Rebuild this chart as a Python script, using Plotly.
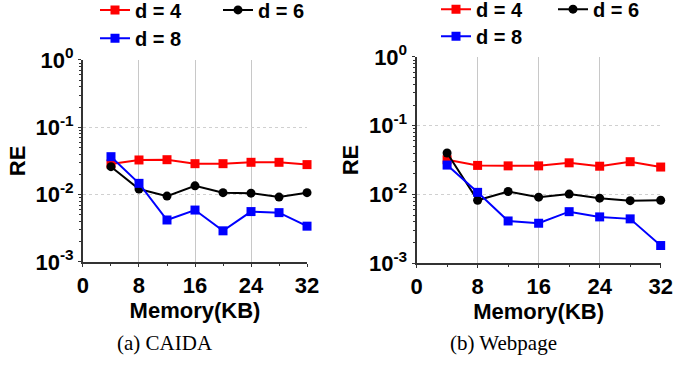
import plotly.graph_objects as go

memory = [4, 8, 12, 16, 20, 24, 28, 32]
x_ticks = [0, 8, 16, 24, 32]
y_tickvals = [0.001, 0.01, 0.1, 1]
y_ticktext = ["10<sup>-3</sup>", "10<sup>-2</sup>", "10<sup>-1</sup>", "10<sup>0</sup>"]

caida_d4 = [0.0285, 0.0327, 0.0330, 0.0288, 0.0288, 0.0302, 0.0302, 0.0279]
caida_d6 = [0.0260, 0.0121, 0.0095, 0.0135, 0.0107, 0.0105, 0.0092, 0.0107]
caida_d8 = [0.0366, 0.0147, 0.0042, 0.0059, 0.0029, 0.0056, 0.0054, 0.0034]

web_d4 = [0.0319, 0.0264, 0.0260, 0.0260, 0.0288, 0.0257, 0.0299, 0.0250]
web_d6 = [0.0400, 0.0082, 0.0110, 0.0091, 0.0101, 0.0088, 0.0081, 0.0082]
web_d8 = [0.0267, 0.0107, 0.0041, 0.0038, 0.0056, 0.0047, 0.0044, 0.0018]

series_names = ["d = 4", "d = 6", "d = 8"]
colors = ["#ff0000", "#000000", "#0000ff"]
symbols = ["square", "circle", "square"]

FONT = "Liberation Sans"
fig = go.Figure()

panels = [((caida_d4, caida_d6, caida_d8), "x", "y", ("legend", "legend", "legend2")),
          ((web_d4, web_d6, web_d8), "x2", "y2", ("legend3", "legend3", "legend4"))]
for data, xa, ya, lgs in panels:
    for vals, name, c, s, lg in zip(data, series_names, colors, symbols, lgs):
        fig.add_trace(go.Scatter(
            x=memory, y=vals, name=name, mode="lines+markers",
            line=dict(color=c, width=2),
            marker=dict(symbol=s, size=9, color=c),
            xaxis=xa, yaxis=ya, legend=lg, cliponaxis=False))

def xax(domain, anchor):
    return dict(domain=domain, anchor=anchor, range=[0, 32], tickvals=x_ticks,
                showline=True, linecolor="#333333", linewidth=2,
                showgrid=True, gridcolor="#c8c8c8", gridwidth=1,
                zeroline=False, ticks="outside", ticklen=3, tickcolor="#333333",
                minor=dict(ticks="outside", ticklen=2, dtick=4, tickcolor="#333333", showgrid=False),
                tickfont=dict(family=FONT, size=22, color="black", weight="bold"),
                title=dict(text="Memory(KB)", font=dict(family=FONT, size=22, color="black", weight="bold"),
                           standoff=2))

def yax(domain, anchor):
    return dict(domain=domain, anchor=anchor, type="log", range=[-3, 0],
                tickvals=y_tickvals, ticktext=y_ticktext,
                showline=True, linecolor="#333333", linewidth=2,
                showgrid=True, gridcolor="#d0d0d0", gridwidth=1, griddash="dot",
                zeroline=False, ticks="outside", ticklen=3, tickcolor="#333333",
                minor=dict(ticks="outside", ticklen=2, dtick="D1", tickcolor="#333333", showgrid=False),
                tickfont=dict(family=FONT, size=22, color="black", weight="bold"),
                title=dict(text="RE", font=dict(family=FONT, size=22, color="black", weight="bold"),
                           standoff=4))

legend_common = dict(orientation="h", xanchor="left", yanchor="top",
                     font=dict(family=FONT, size=20, color="black", weight="bold"),
                     bgcolor="rgba(0,0,0,0)", entrywidthmode="pixels",
                     tracegroupgap=0)

fig.update_layout(
    width=673, height=370,
    margin=dict(l=0, r=0, t=0, b=0, autoexpand=False),
    plot_bgcolor="white", paper_bgcolor="white",
    showlegend=True,
    xaxis=xax([0.1233, 0.4562], "y"),
    yaxis=yax([0.292, 0.838], "x"),
    xaxis2=xax([0.619, 0.9817], "y2"),
    yaxis2=yax([0.289, 0.846], "x2"),
    legend=dict(x=95 / 673, y=1.026, entrywidth=78, **legend_common),
    legend2=dict(x=95 / 673, y=0.949, entrywidth=78, **legend_common),
    legend3=dict(x=436 / 673, y=1.028, entrywidth=72, **legend_common),
    legend4=dict(x=436 / 673, y=0.955, entrywidth=72, **legend_common),
    annotations=[
        dict(text="(a) CAIDA", x=0.366, y=-0.40, xref="x domain", yref="y domain",
             xanchor="center", yanchor="middle", showarrow=False,
             font=dict(family="Liberation Serif", size=21, color="black")),
        dict(text="(b) Webpage", x=0.358, y=-0.388, xref="x2 domain", yref="y2 domain",
             xanchor="center", yanchor="middle", showarrow=False,
             font=dict(family="Liberation Serif", size=21, color="black")),
    ],
)

fig.write_html("out.html")
